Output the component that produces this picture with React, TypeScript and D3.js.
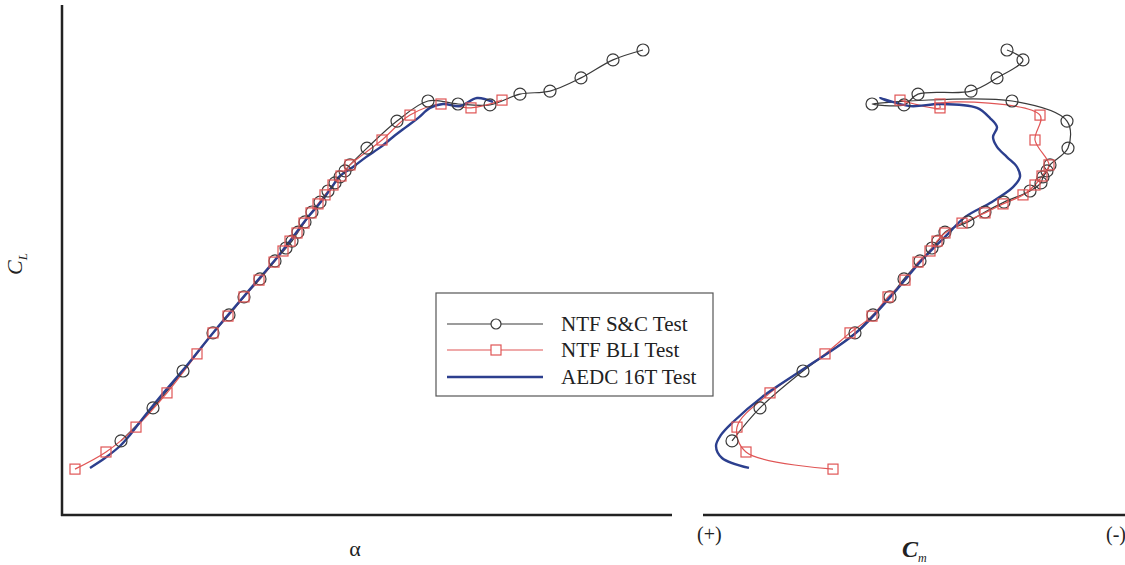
import React from "react";
import * as d3 from "d3";

// NTF S&C Test (black circles)
const alphaSC = [0.95, 2.55, 4.05, 5.55, 6.35, 7.1, 7.9, 8.65, 9.2, 9.5, 9.8, 10.15, 10.5, 10.9, 11.3, 11.65, 11.9, 12.15, 12.4, 13.25, 14.75, 16.3, 17.8, 19.4, 20.9, 22.4, 23.95, 25.55, 27.05];
const clSC = [0.047, 0.157, 0.28, 0.407, 0.467, 0.527, 0.587, 0.647, 0.69, 0.713, 0.743, 0.777, 0.81, 0.843, 0.88, 0.907, 0.927, 0.947, 0.967, 1.023, 1.113, 1.18, 1.17, 1.167, 1.203, 1.213, 1.257, 1.317, 1.35];
const cmSC = [0.0655, 0.0515, 0.03, 0.004, -0.005, -0.0135, -0.0205, -0.0285, -0.0345, -0.0375, -0.041, -0.0525, -0.061, -0.0705, -0.0835, -0.089, -0.09, -0.092, -0.0935, -0.1025, -0.102, -0.0745, -0.0045, -0.0205, -0.0275, -0.054, -0.067, -0.08, -0.072];

// NTF BLI Test (red squares)
const alphaBLI = [-1.35, 0.2, 1.7, 3.25, 4.75, 5.55, 6.3, 7.1, 7.85, 8.6, 9.05, 9.4, 9.75, 10.1, 10.45, 10.8, 11.15, 11.55, 11.95, 12.4, 14.0, 15.4, 16.95, 18.45, 20.0];
const clBLI = [-0.047, 0.01, 0.093, 0.207, 0.337, 0.407, 0.463, 0.527, 0.583, 0.643, 0.68, 0.713, 0.74, 0.773, 0.807, 0.837, 0.867, 0.9, 0.93, 0.967, 1.05, 1.133, 1.17, 1.157, 1.183];
const cmBLI = [0.015, 0.0585, 0.063, 0.0465, 0.019, 0.0065, -0.0045, -0.0125, -0.021, -0.0275, -0.0335, -0.037, -0.041, -0.0495, -0.061, -0.07, -0.08, -0.086, -0.0895, -0.093, -0.086, -0.0885, -0.0385, -0.0385, -0.0185];

// AEDC 16T Test (blue line)
const alphaAEDC = [-0.6, 0.15, 0.9, 1.4, 1.9, 2.9, 4.05, 5.55, 7.15, 8.65, 9.55, 10.3, 10.9, 11.5, 11.85, 12.55, 13.2, 13.95, 14.55, 15.2, 15.8, 16.4, 17.05, 17.9, 18.75, 19.55];
const clAEDC = [-0.043, -0.01, 0.03, 0.067, 0.11, 0.193, 0.283, 0.407, 0.533, 0.65, 0.727, 0.793, 0.84, 0.893, 0.927, 0.96, 0.993, 1.027, 1.06, 1.093, 1.123, 1.157, 1.17, 1.163, 1.19, 1.177];
const cmAEDC = [0.057, 0.0705, 0.0735, 0.071, 0.065, 0.0505, 0.0305, 0.0035, -0.0145, -0.0295, -0.041, -0.051, -0.0635, -0.075, -0.0785, -0.077, -0.072, -0.067, -0.065, -0.067, -0.0635, -0.057, -0.0385, -0.0235, -0.0085, -0.0135];

const legendLabels = ["NTF S&C Test", "NTF BLI Test", "AEDC 16T Test"];

const BLACK = "#3a3a3a";
const RED = "#e05555";
const BLUE = "#2c3f8e";
const SERIF = "'Liberation Serif', 'Times New Roman', serif";

export default function App() {
  const xA = d3.scaleLinear().domain([-2, 28.5]).range([62, 672]);
  const yCL = d3.scaleLinear().domain([-0.2, 1.5]).range([515, 5]);
  const xCm = d3.scaleLinear().domain([0.08, -0.131]).range([703, 1125]);

  const curve = d3.curveCatmullRom.alpha(0.5);
  const mkLine = (xs: number[], ys: number[], sx: (v: number) => number) =>
    d3.line<number>().x((_, i) => sx(xs[i])).y((_, i) => yCL(ys[i])).curve(curve)(xs.map((_, i) => i)) || "";

  const circles = (xs: number[], ys: number[], sx: (v: number) => number, key: string) =>
    xs.map((v, i) => (
      <circle key={key + i} cx={sx(v)} cy={yCL(ys[i])} r={6} fill="none" stroke={BLACK} strokeWidth={1.2} />
    ));
  const squares = (xs: number[], ys: number[], sx: (v: number) => number, key: string) =>
    xs.map((v, i) => (
      <rect key={key + i} x={sx(v) - 5} y={yCL(ys[i]) - 5} width={10} height={10} fill="none" stroke={RED} strokeWidth={1.2} />
    ));

  const lg = { x: 436, y: 293, w: 277, h: 103 };
  const rows = [324, 350, 377];

  return (
    <svg width={1125} height={565} style={{ position: "absolute", left: 0, top: 0, background: "#fff" }} fontFamily={SERIF}>
      {/* axes */}
      <line x1={62} y1={5} x2={62} y2={516} stroke="#222" strokeWidth={2.5} />
      <line x1={61} y1={515} x2={672} y2={515} stroke="#222" strokeWidth={2.5} />
      <line x1={703} y1={515} x2={1125} y2={515} stroke="#222" strokeWidth={2.5} />

      {/* left panel: CL vs alpha */}
      <path d={mkLine(alphaSC, clSC, xA)} fill="none" stroke={BLACK} strokeWidth={1.2} />
      <path d={mkLine(alphaBLI, clBLI, xA)} fill="none" stroke={RED} strokeWidth={1.2} />
      <path d={mkLine(alphaAEDC, clAEDC, xA)} fill="none" stroke={BLUE} strokeWidth={2.4} />
      {circles(alphaSC, clSC, xA, "lc")}
      {squares(alphaBLI, clBLI, xA, "ls")}

      {/* right panel: CL vs Cm */}
      <path d={mkLine(cmSC, clSC, xCm)} fill="none" stroke={BLACK} strokeWidth={1.2} />
      <path d={mkLine(cmBLI, clBLI, xCm)} fill="none" stroke={RED} strokeWidth={1.2} />
      <path d={mkLine(cmAEDC, clAEDC, xCm)} fill="none" stroke={BLUE} strokeWidth={2.4} />
      {circles(cmSC, clSC, xCm, "rc")}
      {squares(cmBLI, clBLI, xCm, "rs")}

      {/* legend */}
      <rect x={lg.x} y={lg.y} width={lg.w} height={lg.h} fill="#fff" stroke="#555" strokeWidth={1.2} />
      {legendLabels.map((t, i) => (
        <g key={t}>
          <line x1={447} x2={543} y1={rows[i]} y2={rows[i]} stroke={[BLACK, RED, BLUE][i]} strokeWidth={i === 2 ? 2.4 : 1.2} />
          {i === 0 && <circle cx={496} cy={rows[i]} r={5} fill="#fff" stroke={BLACK} strokeWidth={1.2} />}
          {i === 1 && <rect x={491} y={rows[i] - 5} width={10} height={10} fill="#fff" stroke={RED} strokeWidth={1.2} />}
          <text x={561} y={rows[i] + 7} fontSize={21} fill="#222">{t}</text>
        </g>
      ))}

      {/* axis labels */}
      <text x={355} y={556} fontSize={22} textAnchor="middle" fill="#222">α</text>
      <text transform="translate(22,264) rotate(-90)" fontSize={22} textAnchor="middle" fill="#222">
        <tspan fontStyle="italic">C</tspan>
        <tspan fontSize={13} dy={5} fontStyle="italic">L</tspan>
      </text>
      <text x={697} y={541} fontSize={20} fill="#222">(+)</text>
      <text x={1106} y={541} fontSize={20} fill="#222">(-)</text>
      <text x={902} y={557} fontSize={24} fontStyle="italic" fontWeight="bold" fill="#222">
        C<tspan fontSize={12} dy={5} fontWeight="normal">m</tspan>
      </text>
    </svg>
  );
}
